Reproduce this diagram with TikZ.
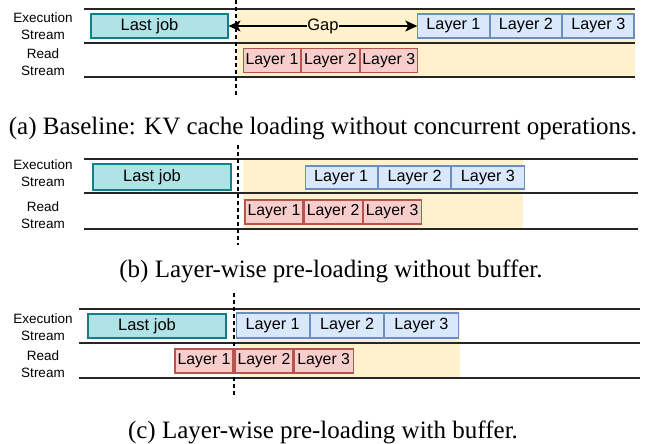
\documentclass[tikz,border=0pt]{standalone}
\usepackage{fontspec}
\setmainfont{Liberation Serif}
\setsansfont{Liberation Sans}
\usepackage{xcolor}
\usetikzlibrary{positioning}
\usetikzlibrary{arrows.meta}
\usetikzlibrary{math}

\definecolor{jobfill}{HTML}{B0E3E6}
\definecolor{jobdraw}{HTML}{0E8088}
\definecolor{execfill}{HTML}{DAE8FC}
\definecolor{execdraw}{HTML}{6C8EBF}
\definecolor{readfill}{HTML}{F8CECC}
\definecolor{readdraw}{HTML}{B85450}
\definecolor{gapfill}{HTML}{FFF2CC}

\tikzset{
  lane/.style={line width=1.4pt, black!85},
  cutline/.style={line width=1.3pt, dash pattern=on 4pt off 3pt},
  lanelabel/.style={font=\sffamily\fontsize{13.5}{17}\selectfont, align=center},
  jobbox/.style={draw=jobdraw, fill=jobfill, line width=1.2pt, inner sep=0pt,
    minimum width=137pt, minimum height=24pt},
  joblabel/.style={font=\sffamily\fontsize{16.5}{18}\selectfont},
  execlayer/.style={draw=execdraw, fill=execfill, line width=1.1pt, inner sep=0pt,
    minimum height=24pt, font=\sffamily\fontsize{16.2}{18}\selectfont},
  readlayer/.style={draw=readdraw, fill=readfill, line width=1.1pt, inner sep=0pt,
    minimum height=24pt, font=\sffamily\fontsize{15.8}{18}\selectfont},
  subcaption/.style={font=\fontsize{25}{28}\selectfont, anchor=base}
}

\begin{document}
\begin{tikzpicture}[x=1pt,y=-1pt]

  \useasboundingbox (0,0) rectangle (645,444);

  \tikzmath{
    \xl  = 84;   % left end of stream lines
    \xlab = 43;  % centre of stream labels
  }

  % ---------------- (a) baseline ----------------
  \fill[gapfill] (237,10) rectangle (635,77);
  \draw[lane] (\xl,9) -- (635,9);
  \draw[lane] (\xl,43) -- (635,43);
  \draw[lane] (\xl,77) -- (635,77);
  \draw[cutline] (236,0) -- (236,95);

  \node[lanelabel] (execA) at (\xlab,26) {Execution\\Stream};
  \node[lanelabel] (readA) at (\xlab,62) {Read\\Stream};

  \node[jobbox, label={[joblabel, xshift=-10pt]center:Last job}] (jobA) at (159.5,26) {};

  \node[execlayer, minimum width=71.3pt] (exA1) at (453.5,26) {Layer 1};
  \node[execlayer, minimum width=71.3pt, right=0pt of exA1] (exA2) {Layer 2};
  \node[execlayer, minimum width=71.3pt, right=0pt of exA2] (exA3) {Layer 3};

  \node[readlayer, minimum width=57.3pt] (rdA1) at (272,60.5) {Layer 1};
  \node[readlayer, minimum width=57.3pt, right=0pt of rdA1] (rdA2) {Layer 2};
  \node[readlayer, minimum width=57.3pt, right=0pt of rdA2] (rdA3) {Layer 3};

  % gap between last job and first layer
  \draw[line width=1.2pt, {Stealth[length=12pt,width=11pt,inset=3pt]}-{Stealth[length=12pt,width=11pt,inset=3pt]}]
    (jobA.east) -- (exA1.west)
    node[midway, fill=gapfill, inner sep=0.5pt, joblabel] (gapA) {Gap};

  \node[subcaption] (capA) at (323,134) {(a) Baseline: KV cache loading without concurrent operations.};

  % ---------------- (b) without buffer ----------------
  \fill[gapfill] (243,159) rectangle (523,229);
  \draw[lane] (\xl,159) -- (638,159);
  \draw[lane] (\xl,193) -- (638,193);
  \draw[lane] (\xl,229) -- (638,229);
  \draw[cutline] (238,145) -- (238,245);

  \node[lanelabel] (execB) at (\xlab,173.5) {Execution\\Stream};
  \node[lanelabel] (readB) at (\xlab,215.5) {Read\\Stream};

  \node[jobbox, minimum width=138pt, minimum height=26pt,
        label={[joblabel, xshift=-10pt]center:Last job}] (jobB) at (162,177) {};

  \node[execlayer, minimum width=72.3pt, minimum height=23pt] (exB1) at (341.2,177.5) {Layer 1};
  \node[execlayer, minimum width=72.3pt, minimum height=23pt, right=0pt of exB1] (exB2) {Layer 2};
  \node[execlayer, minimum width=72.3pt, minimum height=23pt, right=0pt of exB2] (exB3) {Layer 3};

  \node[readlayer, minimum width=58pt] (rdB1) at (274,212) {Layer 1};
  \node[readlayer, minimum width=58pt, right=0pt of rdB1] (rdB2) {Layer 2};
  \node[readlayer, minimum width=58pt, right=0pt of rdB2] (rdB3) {Layer 3};

  \node[subcaption] (capB) at (331,277) {(b) Layer-wise pre-loading without buffer.};

  % ---------------- (c) with buffer ----------------
  \fill[gapfill] (240,309) rectangle (460,378);
  \draw[lane] (79,309) -- (640,309);
  \draw[lane] (79,343) -- (640,343);
  \draw[lane] (79,378) -- (640,378);
  \draw[cutline] (234,293) -- (234,395);

  \node[lanelabel] (execC) at (\xlab,327) {Execution\\Stream};
  \node[lanelabel] (readC) at (\xlab,364.5) {Read\\Stream};

  \node[jobbox, minimum width=138pt,
        label={[joblabel, xshift=-10pt]center:Last job}] (jobC) at (157,326) {};

  \node[execlayer, minimum width=73.3pt, minimum height=25pt] (exC1) at (272.7,325.5) {Layer 1};
  \node[execlayer, minimum width=73.3pt, minimum height=25pt, right=0pt of exC1] (exC2) {Layer 2};
  \node[execlayer, minimum width=73.3pt, minimum height=25pt, right=0pt of exC2] (exC3) {Layer 3};

  % first layer is read before the cut
  \node[readlayer, minimum width=58pt] (rdC1) at (204,361) {Layer 1};
  \node[readlayer, minimum width=58pt] (rdC2) at (264,361) {Layer 2};
  \node[readlayer, minimum width=59pt, right=0pt of rdC2] (rdC3) {Layer 3};

  \node[subcaption] (capC) at (323,438) {(c) Layer-wise pre-loading with buffer.};

\end{tikzpicture}
\end{document}
